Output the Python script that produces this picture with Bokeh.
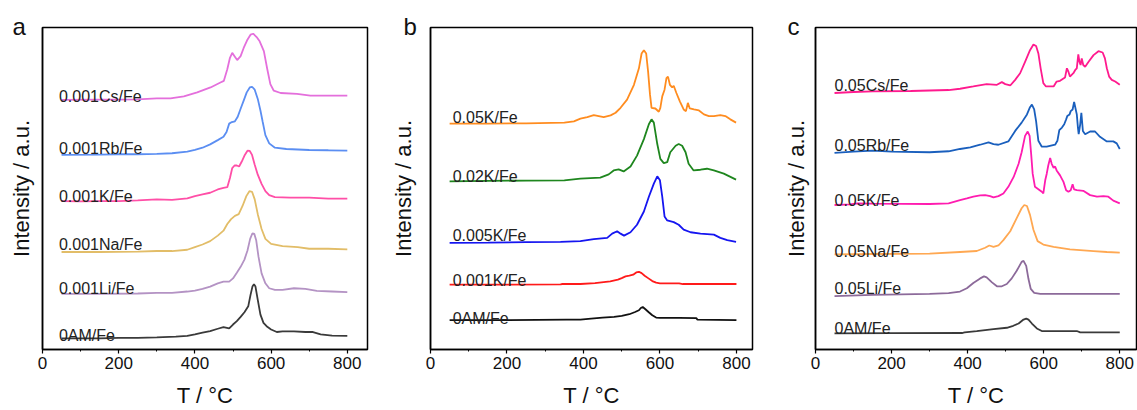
from bokeh.plotting import figure
from bokeh.layouts import row
from bokeh.models import Range1d, SingleIntervalTicker, FixedTicker
from bokeh.core.properties import value
from bokeh.embed import file_html
from bokeh.resources import INLINE

FONT = "Liberation Sans"

# ---------------- Panel a ----------------
A_0AM_T = [50, 150, 200, 250, 300, 350, 380, 400, 420, 440, 460, 475, 490, 500, 510, 520, 530, 540, 546, 551, 555, 559, 565, 572, 580, 590, 600, 615, 630, 660, 690, 710, 730, 760, 800]
A_0AM_I = [11.3, 11.3, 11.7, 11.7, 12.3, 13, 13.7, 15.3, 17, 18.7, 21, 22.7, 21.3, 25.3, 28.7, 33, 37.7, 43.7, 55.3, 63.7, 66, 63.7, 50.3, 35.3, 27, 23, 20.3, 17.7, 18.3, 18.3, 17.7, 17.7, 15.3, 14, 13.7]

A_LI_T = [50, 150, 250, 300, 340, 380, 400, 420, 440, 460, 475, 490, 500, 510, 520, 530, 538, 545, 551, 556, 561, 567, 575, 585, 595, 610, 630, 660, 690, 720, 760, 800]
A_LI_I = [56.3, 56.3, 56.7, 57.3, 57.3, 58.7, 59.7, 61.3, 63.7, 67, 68.7, 68.7, 72, 77.7, 83.7, 91, 100.3, 112, 117.7, 117, 110.3, 93.7, 77, 67, 62, 60.3, 60.3, 62, 61.3, 59.3, 58.7, 58]

A_NA_T = [50, 150, 250, 300, 340, 380, 400, 420, 440, 460, 475, 485, 495, 505, 515, 525, 535, 543, 550, 557, 565, 575, 585, 600, 630, 670, 700, 750, 800]
A_NA_I = [98.7, 98.7, 99, 99.7, 99.7, 101, 103.7, 106.3, 109.7, 115.3, 120.3, 127, 132, 135.3, 137, 145.3, 155.3, 160.3, 159.7, 152, 137, 122, 112, 107, 104.7, 103.7, 102, 102, 101.3]

A_K_T = [50, 100, 150, 200, 250, 300, 340, 380, 400, 420, 440, 460, 475, 485, 492, 498, 504, 510, 516, 523, 531, 538, 544, 550, 557, 565, 575, 585, 595, 610, 650, 700, 750, 800]
A_K_I = [150.3, 150, 150.3, 150.3, 151, 152, 151.5, 153, 155.3, 157, 158.7, 162, 163.7, 164.3, 173.7, 183.7, 186.3, 186.3, 185.3, 190.3, 197, 201.3, 201, 197, 187, 177, 167.7, 160.3, 156.3, 154.3, 153.7, 153.7, 152.7, 152.7]

A_RB_T = [50, 150, 200, 250, 300, 340, 380, 400, 420, 440, 460, 475, 483, 490, 497, 505, 512, 520, 528, 536, 544, 550, 557, 565, 572, 578, 585, 595, 610, 640, 700, 750, 800]
A_RB_I = [197, 197.3, 197.7, 197.7, 198, 198.7, 200.3, 202, 204.3, 207.7, 212, 215.3, 220.3, 228.7, 230.3, 231, 235.3, 243.7, 252, 260.3, 265.3, 266, 263, 253.7, 242, 230.3, 217, 208.7, 204.3, 203, 202, 201.7, 201.3]

A_CS_T = [50, 150, 200, 250, 300, 336, 371, 406, 441, 467, 476, 485, 492, 498, 504, 511, 520, 528, 537, 546, 553, 562, 570, 581, 590, 598, 607, 625, 668, 703, 750, 800]
A_CS_I = [252.7, 253, 253, 253.3, 254.3, 254.3, 256.3, 260.3, 265.3, 270.3, 272, 283.7, 295.3, 300.3, 297, 293, 297, 305.3, 313, 318.7, 319.7, 316.3, 312, 302, 283.7, 268.7, 262, 259.7, 258.7, 257, 257, 257]

A_LABELS = ["0AM/Fe", "0.001Li/Fe", "0.001Na/Fe", "0.001K/Fe", "0.001Rb/Fe", "0.001Cs/Fe"]

# ---------------- Panel b ----------------
B_0AM_T = [50, 200, 355, 392, 420, 450, 480, 500, 520, 535, 545, 550, 555, 562, 570, 580, 590, 600, 650, 695, 698, 800]
B_0AM_I = [29.7, 29.7, 30.3, 30.3, 31.3, 32.3, 33, 34, 35.7, 38, 39.7, 42, 43, 40.7, 38, 34.7, 32.3, 32, 32, 31.7, 30.3, 29.7]

B_001K_T = [50, 200, 340, 345, 392, 430, 470, 490, 500, 510, 520, 530, 538, 545, 552, 560, 570, 580, 590, 600, 650, 660, 800]
B_001K_I = [65.7, 65.7, 66, 66.3, 66.3, 67.3, 69, 70.7, 72.3, 74, 74.7, 75.7, 78, 78.7, 77.3, 74.7, 72, 69.3, 67.7, 67, 67, 66.3, 66.3]

B_005K_T = [50, 150, 250, 340, 392, 427, 462, 475, 488, 497, 506, 523, 540, 558, 571, 584, 593, 600, 606, 612, 619, 636, 649, 662, 680, 706, 741, 758, 776, 799]
B_005K_I = [108, 108.3, 108.7, 109, 109.7, 111.7, 113, 117.3, 119.7, 117.3, 115.3, 118.7, 126.3, 139.7, 154.7, 168, 175.3, 171.3, 154.7, 134.7, 130.7, 129, 126.3, 121.3, 118.7, 117.3, 116.3, 113, 110.7, 109]

B_002K_T = [50, 150, 250, 350, 392, 444, 466, 479, 492, 505, 523, 540, 558, 571, 578, 584, 593, 601, 610, 619, 627, 641, 649, 658, 667, 675, 688, 706, 723, 741, 767, 799]
B_002K_I = [170.3, 170.7, 171, 171.3, 173, 174, 177.3, 181.3, 182.3, 180.3, 185.3, 196.3, 213, 228, 233, 229.7, 208, 193, 188.7, 189.7, 199.7, 206.3, 208, 206.3, 199.7, 188, 181.3, 182, 183, 181.3, 178, 172]

B_005KB_T = [50, 150, 250, 350, 375, 392, 410, 427, 440, 453, 471, 484, 497, 514, 532, 545, 552, 558, 564, 569, 574, 578, 588, 597, 601, 606, 612, 617, 621, 626, 632, 636, 643, 652, 662, 668, 673, 678, 689, 702, 715, 728, 741, 758, 771, 784, 799]
B_005KB_I = [228.7, 228.7, 229, 229.7, 231, 233.7, 235.3, 237.3, 236.3, 235.3, 237, 239.7, 244.7, 253, 268, 284.7, 299.7, 303, 299.7, 281.3, 258, 244.7, 244, 240.7, 244.7, 256.3, 263, 274.7, 276.3, 268, 265.3, 267, 259.7, 251.3, 243, 241.3, 249.7, 244, 243, 242, 238, 236.3, 236.3, 237.3, 236.3, 233, 229.7]

B_LABELS = ["0AM/Fe", "0.001K/Fe", "0.005K/Fe", "0.02K/Fe", "0.05K/Fe"]

# ---------------- Panel c ----------------
C_0AM_T = [50, 200, 385, 392, 424, 468, 503, 520, 534, 547, 554, 560, 569, 582, 595, 643, 687, 696, 800]
C_0AM_I = [16.3, 16.5, 16.7, 17.3, 18.7, 20.7, 22, 24, 26.3, 30.3, 31.3, 30.3, 26.3, 21.3, 18.7, 18.7, 18.7, 17.3, 17.3]

C_LI_T = [50, 150, 300, 350, 380, 398, 415, 433, 443, 450, 464, 477, 490, 503, 516, 529, 542, 547, 554, 560, 566, 575, 591, 800]
C_LI_I = [54, 55.3, 56.3, 57, 58.7, 62, 67.3, 72, 74, 73, 68, 64, 64, 66.3, 72, 79.7, 88.7, 89.7, 84.7, 71.3, 61.3, 57.3, 56.3, 56.3]

C_NA_T = [50, 150, 300, 380, 424, 446, 457, 468, 481, 494, 512, 529, 542, 549, 556, 564, 573, 584, 599, 626, 669, 731, 766, 800]
C_NA_I = [96.3, 96.7, 97, 98.7, 99.7, 103, 105.3, 104, 105.3, 110.7, 119.7, 133, 143, 146.3, 145.3, 136.3, 121.3, 109.7, 106.3, 104, 101.3, 99.7, 98.7, 98]

C_K_T = [50, 90, 110, 150, 300, 350, 380, 398, 415, 433, 446, 459, 468, 481, 494, 507, 521, 534, 542, 551, 558, 563, 567, 571, 577, 586, 595, 599, 604, 608, 612, 617, 621, 626, 630, 634, 643, 652, 659, 665, 671, 676, 680, 687, 704, 722, 740, 757, 770, 783, 800]
C_K_I = [146.3, 147, 148, 147.7, 147.3, 148, 151.3, 153, 154.7, 156, 156.3, 155.3, 154, 155.3, 158, 164.7, 174.7, 188, 199.7, 216.3, 220.7, 216.3, 198, 178, 164.7, 162.3, 159.7, 158, 171.3, 178, 186.3, 194, 188, 184, 185.3, 181.3, 176.3, 169.7, 161.3, 159.7, 161.3, 167.3, 162, 161.3, 160.7, 156.3, 154.7, 155.3, 154.7, 150.7, 148]

C_RB_T = [50, 100, 150, 200, 300, 350, 380, 407, 433, 455, 468, 481, 507, 525, 542, 556, 564, 569, 575, 580, 586, 595, 608, 630, 636, 641, 648, 654, 659, 662, 668, 671, 676, 680, 683, 687, 690, 692, 696, 699, 703, 709, 722, 735, 748, 766, 783, 792, 800]
C_RB_I = [199, 200.3, 201.3, 200.3, 199.7, 200.7, 203, 204.7, 207.3, 209.7, 208, 207.3, 210.7, 221.3, 229.7, 238, 245.3, 248, 243, 231.3, 211.3, 205.3, 205.3, 207.3, 211.3, 222, 224.7, 228, 233, 236.3, 238, 241.3, 243, 250.7, 245.3, 238, 224.7, 218, 228, 239.7, 221.3, 218, 220.7, 220.7, 215.3, 210.7, 210.7, 208.7, 203]

C_CS_T = [50, 100, 150, 250, 350, 380, 415, 450, 477, 490, 499, 512, 525, 538, 551, 564, 573, 580, 586, 592, 599, 606, 626, 634, 643, 656, 661, 665, 669, 678, 683, 687, 691, 694, 697, 700, 704, 709, 718, 731, 744, 755, 761, 766, 772, 779, 788, 800]
C_CS_I = [259.7, 260.7, 261.3, 261.7, 262.7, 264, 266.3, 268.7, 268, 270.7, 268.7, 267.3, 273, 279.7, 291.3, 303, 308.7, 307.3, 299.7, 284.7, 269.7, 266.3, 266.3, 271.3, 272, 275.3, 284.7, 281.3, 276.3, 279.7, 283, 284.7, 298.7, 291.3, 288, 294.7, 288, 286.3, 291.3, 298, 302, 300.7, 294.7, 284.7, 276.3, 273, 271.3, 268]

C_LABELS = ["0AM/Fe", "0.05Li/Fe", "0.05Na/Fe", "0.05K/Fe", "0.05Rb/Fe", "0.05Cs/Fe"]

X_TICK_INTERVAL = 200


def make_panel(width, left, right, top, bottom, xend, letter, letter_off, ystand):
    p = figure(width=width, height=410, output_backend="svg", toolbar_location=None,
               x_range=Range1d(0, xend), y_range=Range1d(0, 326),
               min_border_left=left, min_border_right=right,
               min_border_top=top, min_border_bottom=bottom, title=letter)
    p.title.align = "left"
    p.title.offset = letter_off
    p.title.standoff = -24
    p.title.text_font = FONT
    p.title.text_font_size = "24px"
    p.title.text_font_style = "normal"
    p.title.text_color = "#111111"
    p.background_fill_color = "white"
    p.border_fill_color = "white"
    p.grid.visible = False
    p.outline_line_color = "black"
    p.outline_line_width = 1.5
    p.outline_line_alpha = 1
    ax = p.xaxis[0]
    ax.ticker = SingleIntervalTicker(interval=X_TICK_INTERVAL, num_minor_ticks=2)
    ax.axis_line_width = 1.5
    ax.major_tick_in = 0
    ax.major_tick_out = 4
    ax.minor_tick_in = 0
    ax.minor_tick_out = 2
    ax.major_tick_line_width = 1.2
    ax.minor_tick_line_width = 1
    ax.major_label_text_font = FONT
    ax.major_label_text_font_size = "17px"
    ax.major_label_text_color = "#111111"
    ax.major_label_standoff = 3
    ax.axis_label = "T / °C"
    ax.axis_label_text_font = FONT
    ax.axis_label_text_font_size = "22px"
    ax.axis_label_text_font_style = "normal"
    ax.axis_label_text_color = "#111111"
    ax.axis_label_standoff = 11
    ay = p.yaxis[0]
    ay.ticker = FixedTicker(ticks=[])
    ay.axis_line_width = 1.5
    ay.major_tick_line_color = None
    ay.minor_tick_line_color = None
    ay.major_label_standoff = 0
    ay.major_tick_out = 0
    ay.minor_tick_out = 0
    ay.axis_label = "Intensity / a.u."
    ay.axis_label_text_font = FONT
    ay.axis_label_text_font_size = "22px"
    ay.axis_label_text_font_style = "normal"
    ay.axis_label_text_color = "#111111"
    ay.axis_label_standoff = ystand
    return p


def add_series(p, t, i, color, label, lx, ly):
    p.line(t, i, line_color=color, line_width=1.8)
    p.text(x=[lx], y=[ly], text=[label], text_font=value(FONT), text_font_size="16px",
           text_color="#222222", text_baseline="alphabetic", text_align="left")


# Panel a
pa = make_panel(380, 42, 13, 26, 58, 853, "a", -30, 9)
a_series = [(A_0AM_T, A_0AM_I, "#3a3a3a"), (A_LI_T, A_LI_I, "#b493c4"),
            (A_NA_T, A_NA_I, "#e2bd68"), (A_K_T, A_K_I, "#ff4fa7"),
            (A_RB_T, A_RB_I, "#5b8ef2"), (A_CS_T, A_CS_I, "#e46fdc")]
a_label_y = [14.3, 61.3, 106.3, 155.3, 203.7, 256]
for (t, i, c), lab, ly in zip(a_series, A_LABELS, a_label_y):
    add_series(pa, t, i, c, lab, 43, ly)

# Panel b
pb = make_panel(377, 50, 5, 27, 57, 842, "b", -27, 15)
b_series = [(B_0AM_T, B_0AM_I, "#111111"), (B_001K_T, B_001K_I, "#ff1a1a"),
            (B_005K_T, B_005K_I, "#1515f0"), (B_002K_T, B_002K_I, "#1e861e"),
            (B_005KB_T, B_005KB_I, "#ff8c1f")]
b_label_y = [31.3, 69.7, 115, 175.3, 235]
for (t, i, c), lab, ly in zip(b_series, B_LABELS, b_label_y):
    add_series(pb, t, i, c, lab, 58, ly)

# Panel c
pc = make_panel(380, 58, 1, 27, 57, 844, "c", -28, 7)
c_series = [(C_0AM_T, C_0AM_I, "#3a3a3a"), (C_LI_T, C_LI_I, "#8c6a9a"),
            (C_NA_T, C_NA_I, "#ffa852"), (C_K_T, C_K_I, "#ff1cb0"),
            (C_RB_T, C_RB_I, "#1a5fbd"), (C_CS_T, C_CS_I, "#ff1a8e")]
c_label_y = [21.3, 61.3, 99.7, 151, 206.3, 267]
for (t, i, c), lab, ly in zip(c_series, C_LABELS, c_label_y):
    add_series(pc, t, i, c, lab, 50, ly)

layout = row(pa, pb, pc, spacing=0)
open("out.html", "w").write(file_html(layout, INLINE))
